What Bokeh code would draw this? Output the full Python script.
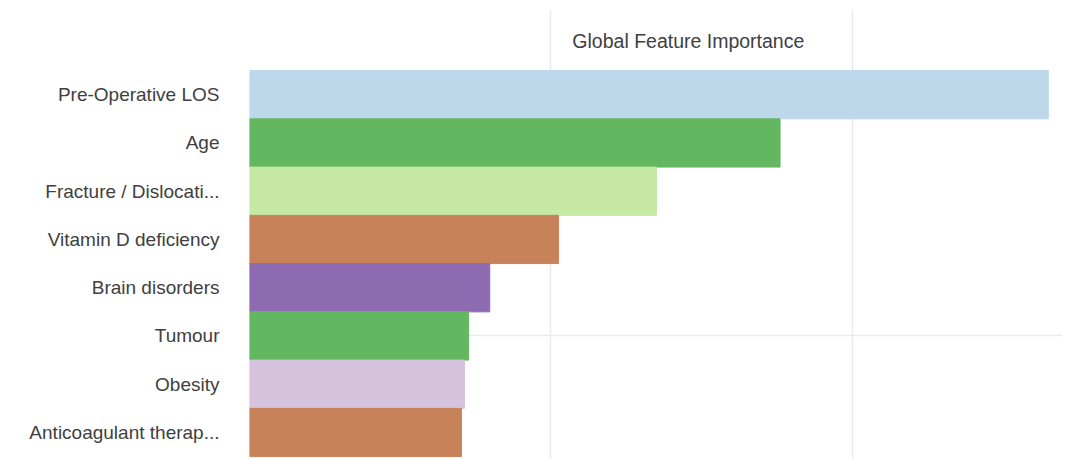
from bokeh.plotting import figure
from bokeh.models import Range1d, FixedTicker, Label, ColumnDataSource
from bokeh.embed import file_html
from bokeh.resources import INLINE

features = ["Pre-Operative LOS", "Age", "Fracture / Dislocati...", "Vitamin D deficiency",
            "Brain disorders", "Tumour", "Obesity", "Anticoagulant therap..."]
importance = [0.265, 0.176, 0.135, 0.1025, 0.0797, 0.0727, 0.0713, 0.0703]
colors = ["#bcd8ea", "#63b760", "#c5e8a5", "#c8825a", "#8e6bb1", "#63b760", "#d6c4df", "#c8825a"]
x_ticks = [0.0, 0.1, 0.2]

n = len(features)
ypos = [n - 1 - i for i in range(n)]
src = ColumnDataSource(dict(y=ypos, v=importance, c=colors, name=features))

p = figure(width=1072, height=459, output_backend="svg", toolbar_location=None,
           x_range=Range1d(0, 0.2697), y_range=Range1d(-0.56, n - 0.5 + 1.245),
           min_border_left=249, min_border_right=10, min_border_top=10, min_border_bottom=0)
p.outline_line_color = None
p.background_fill_color = "white"

p.hbar(y="y", right="v", left=0, height=1.0, color="c", source=src)

p.xaxis.visible = False
p.xgrid.ticker = FixedTicker(ticks=x_ticks)
p.xgrid.grid_line_color = "#ebebeb"
p.xgrid.grid_line_width = 1.5
p.ygrid.ticker = FixedTicker(ticks=[ypos[features.index("Tumour")]])
p.ygrid.grid_line_color = "#ebebeb"
p.ygrid.grid_line_width = 1.5

p.yaxis.ticker = FixedTicker(ticks=ypos)
p.yaxis.major_label_overrides = {y: f for y, f in zip(ypos, features)}
p.yaxis.axis_line_color = None
p.yaxis.major_tick_line_color = None
p.yaxis.minor_tick_line_color = None
p.yaxis.major_label_standoff = 24
p.yaxis.major_label_text_font = "Liberation Sans"
p.yaxis.major_label_text_font_size = "19px"
p.yaxis.major_label_text_color = "#404040"

title = Label(x=0.1071, y=n - 0.5 + 0.62, text="Global Feature Importance",
              text_font="Liberation Sans", text_font_size="19.5px", text_color="#404040",
              text_baseline="middle", text_align="left")
p.add_layout(title)

open("out.html", "w").write(file_html(p, INLINE))
